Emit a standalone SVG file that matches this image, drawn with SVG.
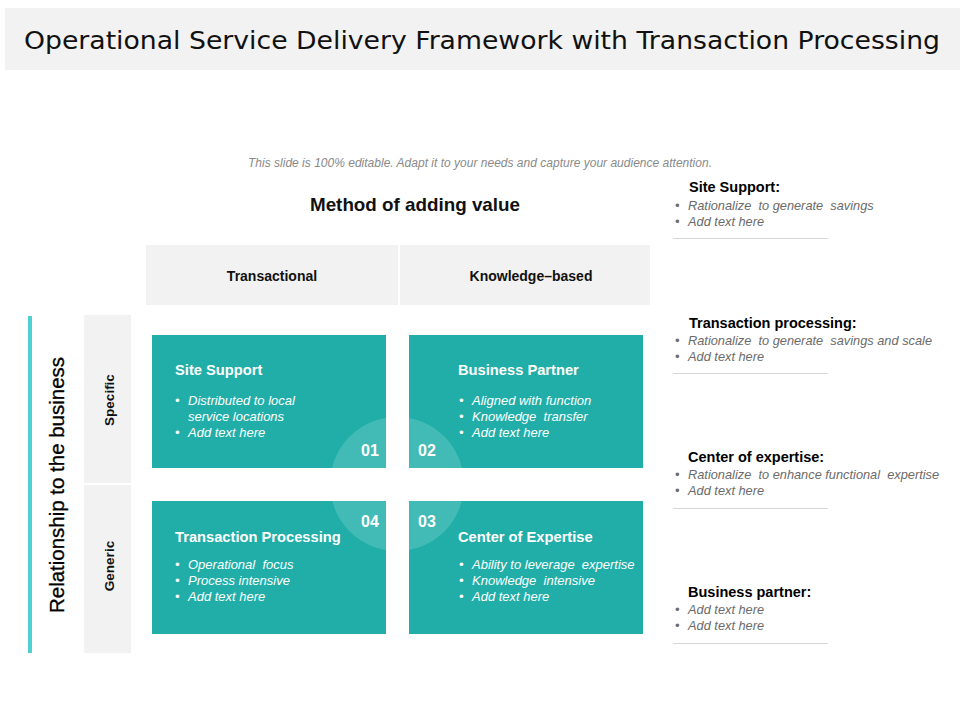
<svg xmlns="http://www.w3.org/2000/svg" width="960" height="720" viewBox="0 0 960 720">
<style>
.t{font-family:"Liberation Sans",Arial,sans-serif}
.bx{fill:#21aea8}
.hd{fill:#f2f2f2}
.bt{font-family:"Liberation Sans",Arial,sans-serif;font-size:14.7px;font-weight:bold;fill:#fff}
.bi{font-family:"Liberation Sans",Arial,sans-serif;font-size:13px;font-style:italic;fill:#fff;white-space:pre}
.num{font-family:"Liberation Sans",Arial,sans-serif;font-size:16px;font-weight:bold;fill:#fff}
.rt{font-family:"Liberation Sans",Arial,sans-serif;font-size:14.5px;font-weight:bold;fill:#000}
.ri{font-family:"Liberation Sans",Arial,sans-serif;font-size:12.8px;font-style:italic;fill:#6b6b6b;white-space:pre}
.sep{stroke:#d6d6d6;stroke-width:1}
.hx{font-family:"Liberation Sans",Arial,sans-serif;font-size:14px;font-weight:bold;fill:#111}
</style>
<rect width="960" height="720" fill="#fff"/>
<g id="title">
<rect x="5" y="8" width="955" height="62" fill="#f2f2f2"/>
<text x="482" y="49" text-anchor="middle" font-family="DejaVu Sans,Verdana,sans-serif" font-size="25" fill="#111" textLength="916" lengthAdjust="spacingAndGlyphs">Operational Service Delivery Framework with Transaction Processing</text>
</g>
<text class="t" x="480" y="167" text-anchor="middle" font-size="12" font-style="italic" fill="#8a8a8a" textLength="464" lengthAdjust="spacingAndGlyphs">This slide is 100% editable. Adapt it to your needs and capture your audience attention.</text>
<text class="t" x="415" y="211" text-anchor="middle" font-size="19" font-weight="bold" fill="#111" textLength="210" lengthAdjust="spacingAndGlyphs">Method of adding value</text>

<g id="header-transactional">
<rect class="hd" x="146" y="245" width="252" height="60"/>
<text class="hx" x="272" y="281" text-anchor="middle">Transactional</text>
</g>
<g id="header-knowledge">
<rect class="hd" x="400" y="245" width="250" height="60"/>
<text class="hx" x="531" y="281" text-anchor="middle">Knowledge–based</text>
</g>

<g id="axis-relationship">
<rect x="28" y="316" width="4" height="337" fill="#4fd1d3"/>
<text class="t" transform="translate(64,485) rotate(-90)" text-anchor="middle" font-size="19.5" fill="#000" stroke="#000" stroke-width="0.3" textLength="256" lengthAdjust="spacingAndGlyphs">Relationship to the business</text>
</g>
<g id="row-specific">
<rect class="hd" x="84" y="315" width="47" height="168"/>
<text class="t" transform="translate(114,400) rotate(-90)" text-anchor="middle" font-size="13.5" font-weight="bold" fill="#111">Specific</text>
</g>
<g id="row-generic">
<rect class="hd" x="84" y="485" width="47" height="168"/>
<text class="t" transform="translate(114,566) rotate(-90)" text-anchor="middle" font-size="13.5" font-weight="bold" fill="#111">Generic</text>
</g>

<g id="box-site-support">
<rect class="bx" x="152" y="335" width="234" height="133"/>
<text class="bt" x="175" y="375">Site Support</text>
<text class="bi" x="175" y="405">•</text><text class="bi" x="188" y="405">Distributed to local</text>
<text class="bi" x="188" y="421">service locations</text>
<text class="bi" x="175" y="437">•</text><text class="bi" x="188" y="437">Add text here</text>
</g>
<g id="box-business-partner">
<rect class="bx" x="409" y="335" width="234" height="133"/>
<text class="bt" x="458" y="375">Business Partner</text>
<text class="bi" x="459" y="405">•</text><text class="bi" x="472" y="405">Aligned with function</text>
<text class="bi" x="459" y="421">•</text><text class="bi" x="472" y="421">Knowledge  transfer</text>
<text class="bi" x="459" y="437">•</text><text class="bi" x="472" y="437">Add text here</text>
</g>
<g id="box-transaction-processing">
<rect class="bx" x="152" y="501" width="234" height="133"/>
<text class="bt" x="175" y="542">Transaction Processing</text>
<text class="bi" x="175" y="569">•</text><text class="bi" x="188" y="569">Operational  focus</text>
<text class="bi" x="175" y="585">•</text><text class="bi" x="188" y="585">Process intensive</text>
<text class="bi" x="175" y="601">•</text><text class="bi" x="188" y="601">Add text here</text>
</g>
<g id="box-center-expertise">
<rect class="bx" x="409" y="501" width="234" height="133"/>
<text class="bt" x="458" y="542">Center of Expertise</text>
<text class="bi" x="459" y="569">•</text><text class="bi" x="472" y="569">Ability to leverage  expertise</text>
<text class="bi" x="459" y="585">•</text><text class="bi" x="472" y="585">Knowledge  intensive</text>
<text class="bi" x="459" y="601">•</text><text class="bi" x="472" y="601">Add text here</text>
</g>

<g id="center-circle">
<clipPath id="cc"><rect x="152" y="335" width="234" height="133"/><rect x="409" y="335" width="234" height="133"/><rect x="152" y="501" width="234" height="133"/><rect x="409" y="501" width="234" height="133"/></clipPath>
<circle cx="397" cy="484" r="67" fill="#fff" fill-opacity="0.15" clip-path="url(#cc)"/>
<text class="num" x="370" y="456" text-anchor="middle">01</text>
<text class="num" x="427" y="456" text-anchor="middle">02</text>
<text class="num" x="370" y="527" text-anchor="middle">04</text>
<text class="num" x="427" y="527" text-anchor="middle">03</text>
</g>

<g id="note-site-support">
<text class="rt" x="689" y="192">Site Support:</text>
<text class="ri" x="675" y="210">•</text><text class="ri" x="688" y="210">Rationalize  to generate  savings</text>
<text class="ri" x="675" y="226">•</text><text class="ri" x="688" y="226">Add text here</text>
<line class="sep" x1="673" y1="238.5" x2="828" y2="238.5"/>
</g>
<g id="note-transaction-processing">
<text class="rt" x="689" y="328">Transaction processing:</text>
<text class="ri" x="675" y="345">•</text><text class="ri" x="688" y="345">Rationalize  to generate  savings and scale</text>
<text class="ri" x="675" y="361">•</text><text class="ri" x="688" y="361">Add text here</text>
<line class="sep" x1="673" y1="373.5" x2="828" y2="373.5"/>
</g>
<g id="note-center-expertise">
<text class="rt" x="688" y="462">Center of expertise:</text>
<text class="ri" x="675" y="479">•</text><text class="ri" x="688" y="479">Rationalize  to enhance functional  expertise</text>
<text class="ri" x="675" y="495">•</text><text class="ri" x="688" y="495">Add text here</text>
<line class="sep" x1="673" y1="508.5" x2="828" y2="508.5"/>
</g>
<g id="note-business-partner">
<text class="rt" x="688" y="597">Business partner:</text>
<text class="ri" x="675" y="614">•</text><text class="ri" x="688" y="614">Add text here</text>
<text class="ri" x="675" y="630">•</text><text class="ri" x="688" y="630">Add text here</text>
<line class="sep" x1="673" y1="643.5" x2="828" y2="643.5"/>
</g>
<g id="connectors"/>
</svg>
